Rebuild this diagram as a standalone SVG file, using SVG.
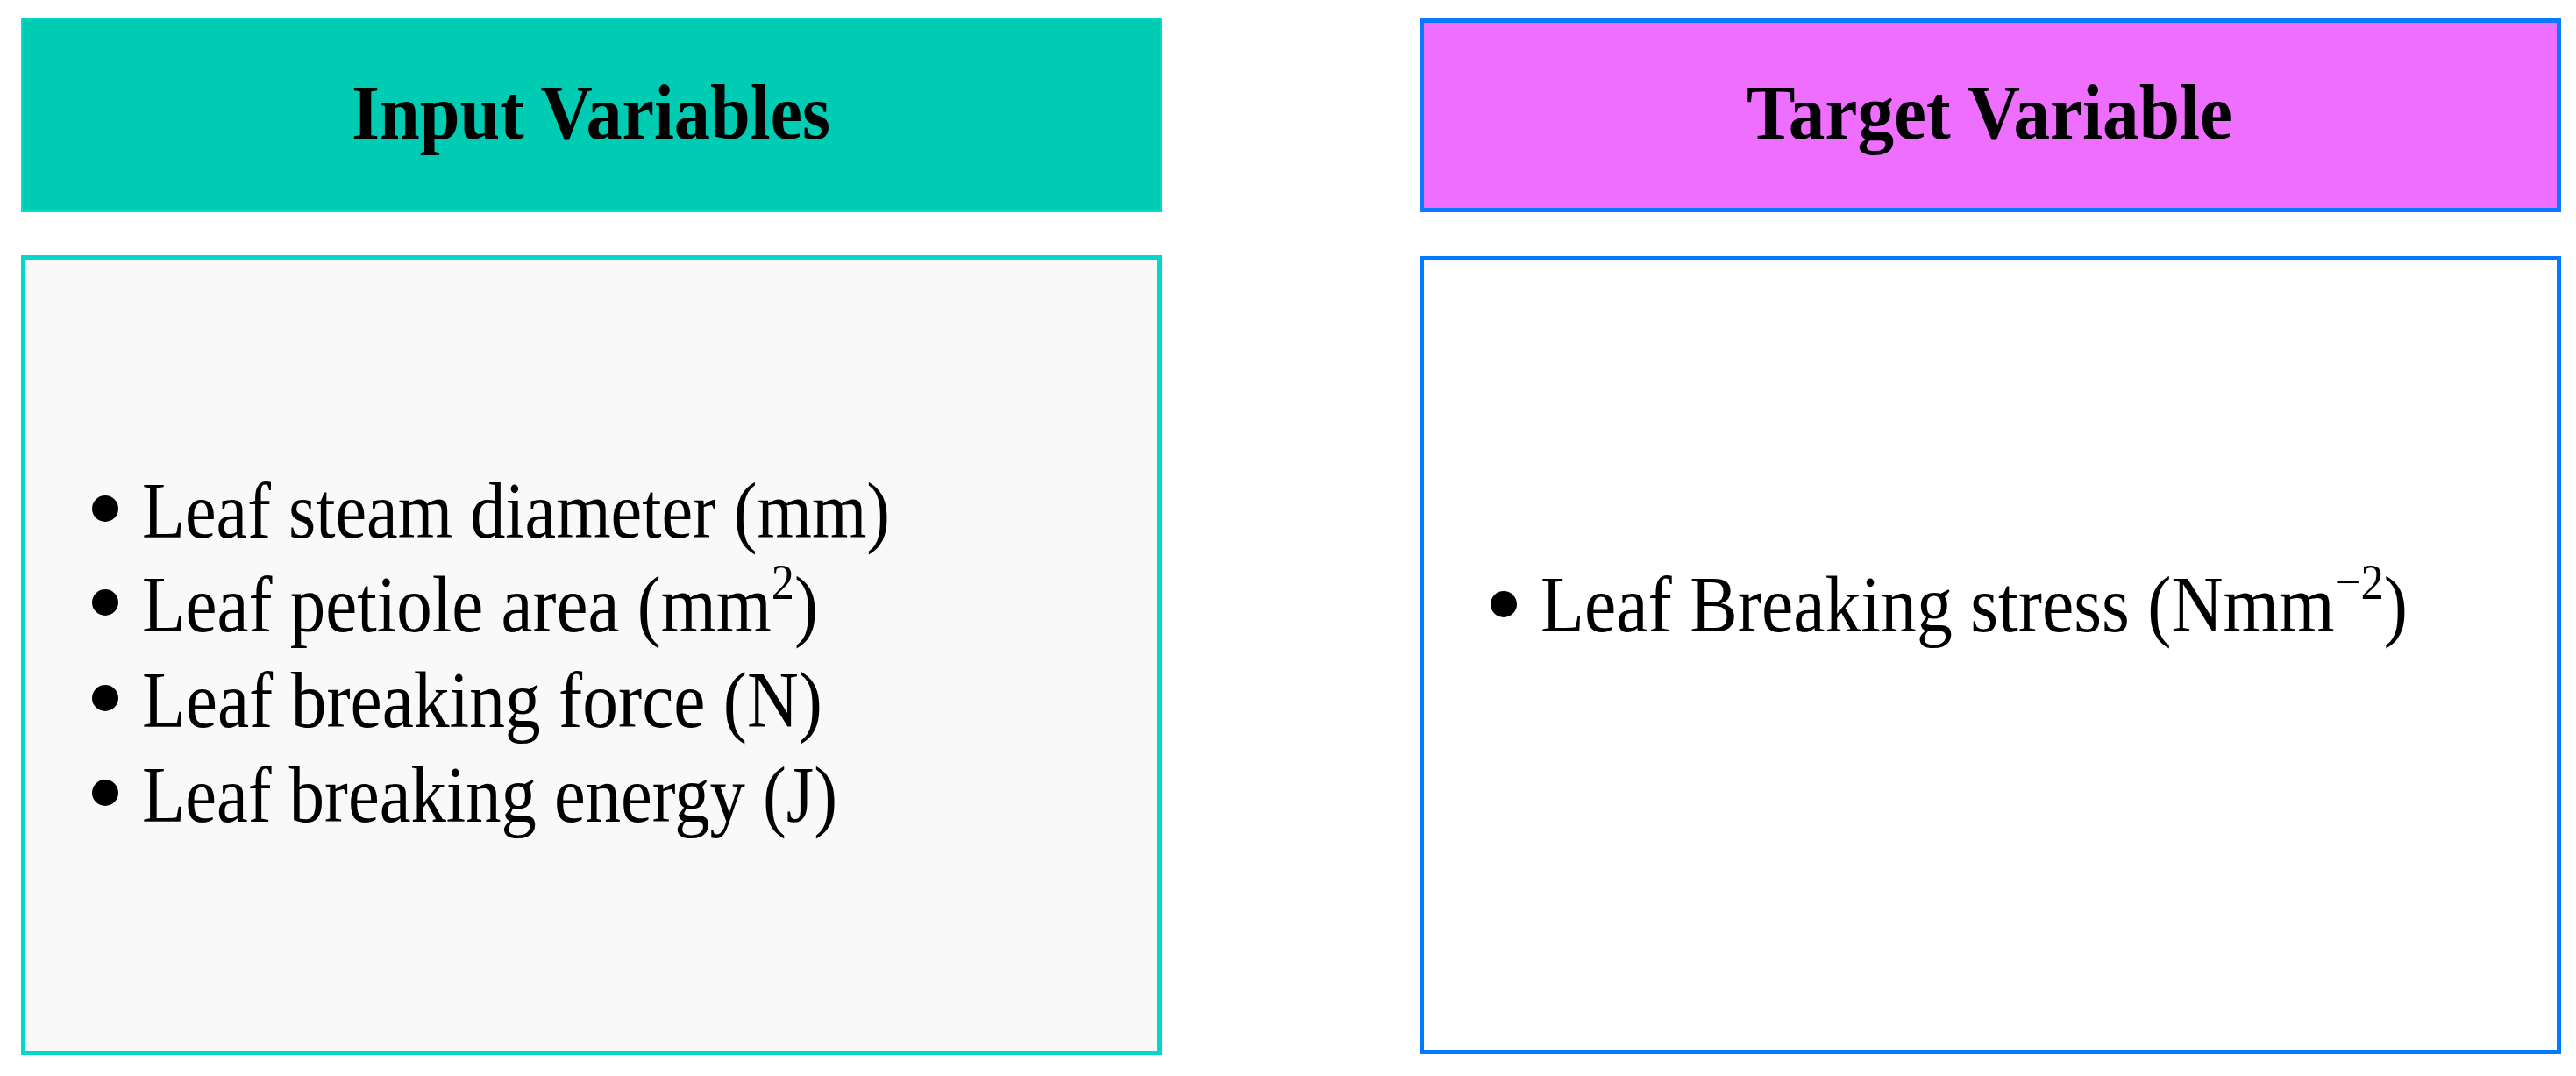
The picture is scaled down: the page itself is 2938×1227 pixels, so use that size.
<svg xmlns="http://www.w3.org/2000/svg" width="2938" height="1227" viewBox="0 0 2938 1227">
<style>
.hdr{font-family:"Liberation Serif","Times New Roman",serif;font-weight:bold;font-size:88px;fill:#000;text-anchor:middle}
.item{font-family:"Liberation Serif","Times New Roman",serif;font-size:90px;fill:#000}
.sup{font-size:58px}
.bullet{fill:#000}
</style>
<rect width="2938" height="1227" fill="#ffffff"/>
<g id="input-header">
<rect x="25" y="21" width="1299" height="220" fill="#00CCB4" stroke="#00DDCC" stroke-width="2"/>
<text class="hdr" x="674" y="158" textLength="546" lengthAdjust="spacingAndGlyphs">Input Variables</text>
</g>
<g id="input-body">
<rect x="26.5" y="293.5" width="1296" height="907" fill="#F9F9F9" stroke="#00D9C8" stroke-width="5"/>
<circle class="bullet" cx="120" cy="580" r="15"/>
<text class="item" x="162" y="613" textLength="853" lengthAdjust="spacingAndGlyphs">Leaf steam diameter (mm)</text>
<circle class="bullet" cx="120" cy="687" r="15"/>
<text class="item" x="162" y="720" textLength="771" lengthAdjust="spacingAndGlyphs">Leaf petiole area (mm<tspan class="sup" dy="-37">2</tspan><tspan dy="37">)</tspan></text>
<circle class="bullet" cx="120" cy="796" r="15"/>
<text class="item" x="162" y="829" textLength="776" lengthAdjust="spacingAndGlyphs">Leaf breaking force (N)</text>
<circle class="bullet" cx="120" cy="904" r="15"/>
<text class="item" x="162" y="937" textLength="793" lengthAdjust="spacingAndGlyphs">Leaf breaking energy (J)</text>
</g>
<g id="target-header">
<rect x="1621.5" y="23.5" width="1297" height="216" fill="#EE6EFF" stroke="#0A7AFF" stroke-width="5"/>
<text class="hdr" x="2269" y="158" textLength="554" lengthAdjust="spacingAndGlyphs">Target Variable</text>
</g>
<g id="target-body">
<rect x="1621.5" y="294.5" width="1297" height="905" fill="#FFFFFF" stroke="#007BFF" stroke-width="5"/>
<circle class="bullet" cx="1715" cy="689" r="15"/>
<text class="item" x="1757" y="720" textLength="989" lengthAdjust="spacingAndGlyphs">Leaf Breaking stress (Nmm<tspan class="sup" dy="-37">−2</tspan><tspan dy="37">)</tspan></text>
</g>
<g id="connectors"></g>
</svg>
